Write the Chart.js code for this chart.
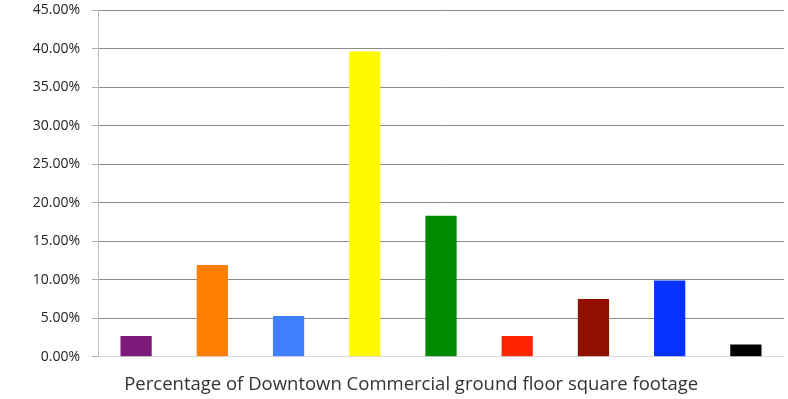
<!DOCTYPE html>
<html>
<head>
<meta charset="utf-8">
<script src="https://cdn.jsdelivr.net/npm/chart.js@4"></script>
<style>
  html, body { margin: 0; padding: 0; background: #fff; }
  #wrap { width: 788px; height: 399px; }
</style>
</head>
<body>
<div id="wrap"><canvas id="mycanvas"></canvas></div>
<script>
// categories have no visible labels in the original
var categories = ["1", "2", "3", "4", "5", "6", "7", "8", "9"];
var shares = [2.7, 11.9, 5.3, 39.6, 18.3, 2.7, 7.5, 9.9, 1.6];
var barColors = ["#7b1a78", "#ff7f00", "#4080ff", "#fffa00", "#008a00", "#ff2600", "#911000", "#0433ff", "#000000"];
var yTicks = [0, 5, 10, 15, 20, 25, 30, 35, 40, 45];
var axisTitle = "Percentage of Downtown Commercial ground floor square footage";

var ctx = document.getElementById("mycanvas");

var chartdata = {
	labels: categories,
	datasets: [{
		data: shares,
		backgroundColor: barColors,
		borderWidth: 0,
		barPercentage: 0.41,
		categoryPercentage: 1.0
	}]
};

var BarGraph = new Chart(ctx, {
	type: 'bar',
	data: chartdata,
	options: {
		responsive: true,
		maintainAspectRatio: false,
		animation: false,
		layout: { padding: { top: 0, left: 0, right: 4, bottom: 0 } },
		plugins: {
			legend: { display: false },
			tooltip: { enabled: false },
			title: {
				display: true,
				position: 'bottom',
				// leading spaces nudge the centred title a bit to the right, like the original
				text: "\u00a0\u00a0\u00a0\u00a0\u00a0\u00a0\u00a0\u00a0" + axisTitle,
				color: '#333',
				font: { family: 'Open Sans', size: 18.5, weight: 'normal' },
				padding: { top: 17, bottom: 3 }
			}
		},
		scales: {
			x: {
				grid: { display: false },
				ticks: { display: false },
				border: { color: '#d9d9d9' },
				afterFit: function(axis) { axis.height = 0; }
			},
			y: {
				min: 0,
				max: 45,
				afterBuildTicks: function(axis) {
					axis.ticks = yTicks.map(function(v) { return { value: v }; });
				},
				afterFit: function(axis) {
					axis.width = 98;
					axis.paddingTop = 10;
				},
				grid: {
					color: function(c) { return c.index === 0 ? '#d9d9d9' : '#8c8c8c'; },
					tickLength: 6,
					tickColor: '#b0b0b0'
				},
				border: { color: '#bfbfbf' },
				ticks: {
					color: '#222',
					padding: 12,
					font: { family: 'Open Sans', size: 14 },
					callback: function(v) { return v.toFixed(2) + '%'; }
				}
			}
		}
	}
});
</script>
</body>
</html>
